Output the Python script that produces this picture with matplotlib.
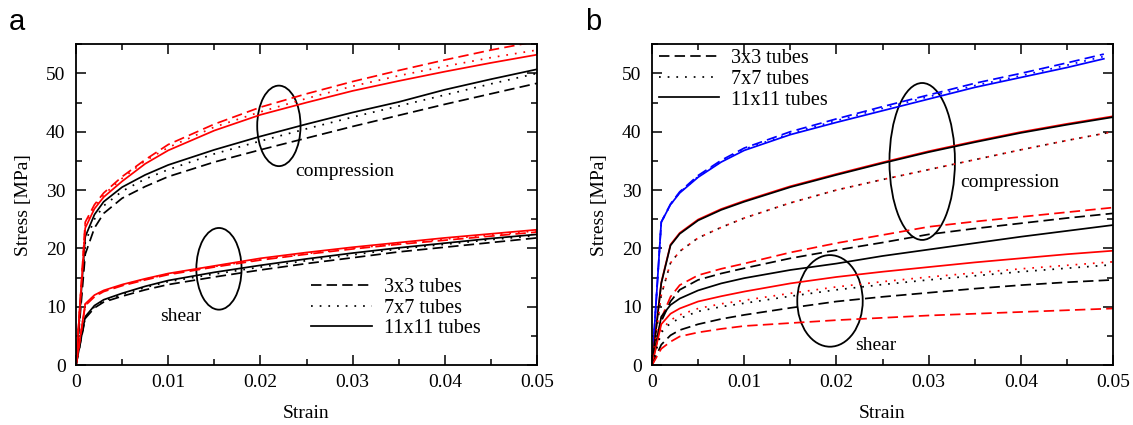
import numpy as np
import matplotlib
matplotlib.use("Agg")
import matplotlib.pyplot as plt
from matplotlib.patches import Ellipse
from matplotlib.lines import Line2D
from matplotlib.ticker import MultipleLocator

plt.rcParams['font.family'] = ['Liberation Serif', 'DejaVu Serif']
plt.rcParams['font.size'] = 14

# strain points
strain = [0, 0.001, 0.002, 0.003, 0.005, 0.0075, 0.01, 0.015, 0.02, 0.025,
          0.03, 0.035, 0.04, 0.045, 0.05]
strain_blue = [0, 0.001, 0.002, 0.003, 0.005, 0.0075, 0.01, 0.015, 0.02, 0.025,
               0.03, 0.035, 0.04, 0.045, 0.049]

# panel a, compression
a_comp_red_3 = [0, 24.5, 27.5, 29.5, 32.3, 35.2, 37.8, 41.3, 44.2, 46.5, 48.6, 50.5, 52.3, 54.0, 55.5]
a_comp_red_7 = [0, 24.0, 27.0, 29.2, 32.0, 35.0, 37.3, 40.8, 43.4, 45.7, 47.8, 49.6, 51.2, 52.7, 54.0]
a_comp_red_11 = [0, 23.5, 26.8, 28.8, 31.5, 34.5, 36.8, 40.2, 42.9, 45.0, 47.0, 48.7, 50.3, 51.8, 53.2]
a_comp_blk_3 = [0, 19.0, 23.5, 26.0, 28.6, 30.6, 32.3, 34.8, 36.9, 38.9, 40.9, 42.8, 44.7, 46.5, 48.3]
a_comp_blk_7 = [0, 21.0, 25.0, 27.3, 29.8, 31.9, 33.5, 36.2, 38.4, 40.5, 42.5, 44.4, 46.3, 48.2, 50.0]
a_comp_blk_11 = [0, 22.0, 25.8, 28.0, 30.5, 32.6, 34.3, 36.9, 39.2, 41.3, 43.3, 45.1, 47.2, 49.0, 50.7]

# panel a, shear
a_shear_red_3 = [0, 10.2, 11.7, 12.6, 13.6, 14.6, 15.5, 16.8, 18.0, 19.0, 19.9, 20.7, 21.4, 22.1, 22.8]
a_shear_red_7 = [0, 10.4, 11.9, 12.7, 13.7, 14.7, 15.6, 16.9, 18.1, 19.1, 20.0, 20.8, 21.6, 22.3, 23.0]
a_shear_red_11 = [0, 10.5, 12.0, 12.8, 13.8, 14.8, 15.7, 17.0, 18.3, 19.3, 20.2, 21.0, 21.8, 22.5, 23.2]
a_shear_blk_3 = [0, 8.0, 9.8, 10.8, 11.8, 12.9, 13.8, 15.1, 16.3, 17.4, 18.4, 19.4, 20.2, 21.0, 21.8]
a_shear_blk_7 = [0, 8.2, 10.0, 11.0, 12.1, 13.3, 14.3, 15.6, 16.8, 17.9, 18.9, 19.9, 20.7, 21.5, 22.2]
a_shear_blk_11 = [0, 8.3, 10.2, 11.2, 12.3, 13.5, 14.5, 15.9, 17.1, 18.2, 19.2, 20.1, 20.9, 21.7, 22.4]

# panel b, compression
b_comp_blue_3 = [0, 24.5, 27.6, 29.7, 32.5, 35.1, 37.2, 40.0, 42.2, 44.3, 46.3, 48.3, 50.0, 51.8, 53.3]
b_comp_blue_7 = [0, 24.5, 27.5, 29.6, 32.3, 34.9, 37.0, 39.7, 41.9, 44.0, 46.0, 47.9, 49.6, 51.4, 52.9]
b_comp_blue_11 = [0, 24.5, 27.5, 29.5, 32.2, 34.8, 36.8, 39.5, 41.6, 43.6, 45.6, 47.6, 49.3, 51.0, 52.5]
b_comp_11 = [0, 14.0, 20.5, 22.5, 24.8, 26.6, 28.0, 30.5, 32.6, 34.6, 36.5, 38.2, 39.8, 41.2, 42.5]
b_comp_7 = [0, 12.0, 17.5, 19.5, 21.8, 23.6, 25.2, 27.8, 30.0, 31.8, 33.5, 35.2, 36.9, 38.5, 40.0]

# panel b, shear
b_shear_red_3u = [0, 8.0, 11.7, 13.7, 15.4, 16.5, 17.4, 19.3, 20.9, 22.3, 23.7, 24.6, 25.4, 26.2, 27.0]
b_shear_blk_3u = [0, 7.5, 10.9, 12.9, 14.6, 15.7, 16.6, 18.3, 19.7, 21.0, 22.4, 23.4, 24.3, 25.2, 26.0]
b_shear_blk_11 = [0, 8.3, 10.3, 11.4, 12.8, 14.0, 14.9, 16.3, 17.4, 18.7, 19.8, 20.9, 22.0, 23.0, 24.0]
b_shear_red_11 = [0, 7.0, 8.8, 9.7, 10.9, 11.8, 12.6, 14.0, 15.1, 16.0, 16.8, 17.6, 18.3, 19.0, 19.6]
b_shear_red_7 = [0, 6.0, 7.7, 8.6, 9.7, 10.5, 11.1, 12.3, 13.4, 14.3, 15.1, 15.8, 16.5, 17.1, 17.7]
b_shear_blk_7 = [0, 5.6, 7.2, 8.0, 9.2, 10.0, 10.6, 11.8, 12.9, 13.8, 14.6, 15.3, 16.0, 16.6, 17.2]
b_shear_blk_3l = [0, 3.5, 5.1, 6.0, 7.0, 7.9, 8.6, 9.8, 10.9, 11.7, 12.4, 13.1, 13.7, 14.2, 14.6]
b_shear_red_3l = [0, 2.8, 4.0, 4.9, 5.6, 6.2, 6.7, 7.2, 7.7, 8.1, 8.5, 8.8, 9.1, 9.4, 9.7]

legend_labels = ["3x3 tubes", "7x7 tubes", "11x11 tubes"]

LW = 1.25
DASH = (0, (6, 3))
DOT = (0, (1, 4))


def style_axes(ax):
    ax.set_xlim(0, 0.05)
    ax.set_ylim(0, 55)
    ax.xaxis.set_major_locator(MultipleLocator(0.01))
    ax.xaxis.set_minor_locator(MultipleLocator(0.005))
    ax.yaxis.set_major_locator(MultipleLocator(10))
    ax.yaxis.set_minor_locator(MultipleLocator(5))
    ax.set_xticks([0, 0.01, 0.02, 0.03, 0.04, 0.05])
    ax.set_xticklabels(["0", "0.01", "0.02", "0.03", "0.04", "0.05"])
    ax.tick_params(which='both', direction='in', top=True, right=True, labelsize=14)
    ax.tick_params(axis='y', pad=7.5)
    ax.tick_params(axis='x', pad=6.5)
    ax.tick_params(which='major', length=7, width=1.1)
    ax.tick_params(which='minor', length=4, width=1.1)
    for s in ax.spines.values():
        s.set_linewidth(1.3)
    ax.set_xlabel("Strain", fontsize=14, labelpad=10)
    ax.set_ylabel("Stress [MPa]", fontsize=14, labelpad=10)


def legend(ax, **kw):
    handles = [Line2D([], [], color='k', lw=LW, linestyle=DASH),
               Line2D([], [], color='k', lw=LW, linestyle=DOT),
               Line2D([], [], color='k', lw=LW, linestyle='-')]
    ax.legend(handles, legend_labels, frameon=False, fontsize=14.5, handlelength=3.0,
              labelspacing=0.08, handletextpad=0.6, borderpad=0.0, borderaxespad=0.0,
              loc='upper left', **kw)


fig = plt.figure(figsize=(11.33, 4.25), dpi=100)
axa = fig.add_axes([0.0671, 0.141, 0.4069, 0.755])
axb = fig.add_axes([0.5755, 0.141, 0.4069, 0.755])

# ---- panel a
for ys, ls in [(a_comp_blk_3, DASH), (a_comp_blk_7, DOT), (a_comp_blk_11, '-'),
               (a_shear_blk_3, DASH), (a_shear_blk_7, DOT), (a_shear_blk_11, '-')]:
    axa.plot(strain, ys, color='k', lw=LW, linestyle=ls)
for ys, ls in [(a_comp_red_3, DASH), (a_comp_red_7, DOT), (a_comp_red_11, '-'),
               (a_shear_red_3, DASH), (a_shear_red_7, DOT), (a_shear_red_11, '-')]:
    axa.plot(strain, ys, color='#ff0000', lw=LW, linestyle=ls)

axa.add_patch(Ellipse((0.022, 41), 0.0047, 13.8, fill=False, ec='k', lw=1.3))
axa.add_patch(Ellipse((0.0155, 16.5), 0.0049, 14, fill=False, ec='k', lw=1.3))
axa.text(0.0238, 33.2, "compression", fontsize=14, va='center', ha='left')
axa.text(0.0091, 8.3, "shear", fontsize=14, va='center', ha='left')
style_axes(axa)
legend(axa, bbox_to_anchor=(0.51, 0.272))
fig.text(0.008, 0.93, "a", fontsize=21, family='Liberation Sans')

# ---- panel b
for ys, ls in [(b_comp_blue_3, DASH), (b_comp_blue_7, DOT), (b_comp_blue_11, '-')]:
    axb.plot(strain_blue, ys, color='#0000ff', lw=LW, linestyle=ls)
axb.plot(strain, [v + 0.15 for v in b_comp_11], color='#ff0000', lw=LW)
axb.plot(strain, b_comp_11, color='k', lw=LW)
axb.plot(strain, b_comp_7, color='#ff0000', lw=LW, linestyle=DOT)
axb.plot(strain, b_comp_7, color='#300000', lw=LW, linestyle=(1, (1, 4)))

for ys, c, ls in [(b_shear_red_3u, '#ff0000', DASH), (b_shear_blk_3u, 'k', DASH),
                  (b_shear_blk_11, 'k', '-'), (b_shear_red_11, '#ff0000', '-'),
                  (b_shear_red_7, '#ff0000', DOT), (b_shear_blk_7, 'k', DOT),
                  (b_shear_blk_3l, 'k', DASH), (b_shear_red_3l, '#ff0000', DASH)]:
    axb.plot(strain, ys, color=c, lw=LW, linestyle=ls)

axb.add_patch(Ellipse((0.0293, 34.9), 0.0071, 26.9, fill=False, ec='k', lw=1.3))
axb.add_patch(Ellipse((0.0193, 11.0), 0.0071, 15.7, fill=False, ec='k', lw=1.3))
axb.text(0.0334, 31.3, "compression", fontsize=14, va='center', ha='left')
axb.text(0.022, 3.4, "shear", fontsize=14, va='center', ha='left')
style_axes(axb)
legend(axb, bbox_to_anchor=(0.015, 0.985))
fig.text(0.516, 0.93, "b", fontsize=21, family='Liberation Sans')

fig.savefig("out.png", dpi=100)
